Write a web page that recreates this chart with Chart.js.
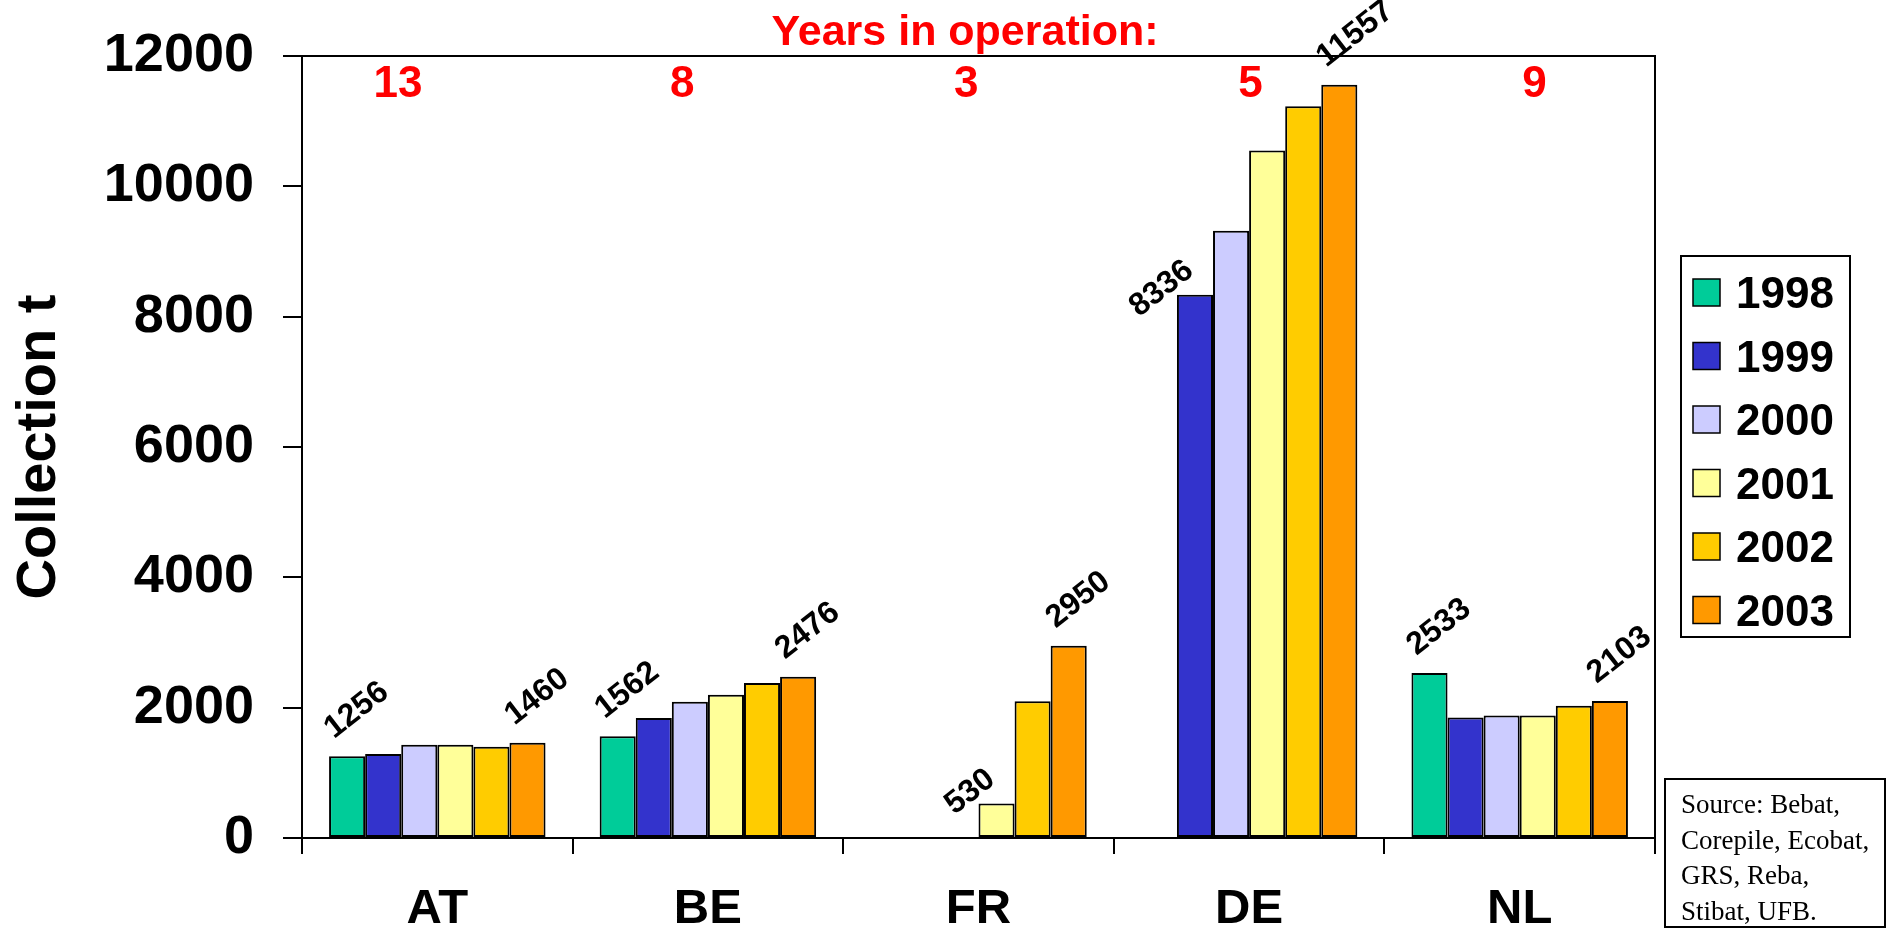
<!DOCTYPE html>
<html lang="en">
<head>
  <meta charset="UTF-8" />
  <title>Battery collection per country</title>
  <script src="https://cdn.jsdelivr.net/npm/chart.js"></script>
  <style>
    body { margin: 0; background: #fff; }
    #wrap { width: 1887px; height: 933px; }
  </style>
</head>
<body>

<div id="wrap"><canvas id="collectionChart" width="1887" height="933"></canvas></div>

<script>
  // data
  const countries = ["AT", "BE", "FR", "DE", "NL"];
  const years = ["1998", "1999", "2000", "2001", "2002", "2003"];
  const yearsInOperation = ["13", "8", "3", "5", "9"];
  const c1998 = [1256, 1562, null, null, 2533];
  const c1999 = [1290, 1840, null, 8336, 1850];
  const c2000 = [1430, 2090, null, 9320, 1880];
  const c2001 = [1430, 2200, 530, 10550, 1880];
  const c2002 = [1400, 2380, 2100, 11230, 2030];
  const c2003 = [1460, 2476, 2950, 11557, 2103];
  const yTicks = [0, 2000, 4000, 6000, 8000, 10000, 12000];
  const sourceLines = ["Source: Bebat,", "Corepile, Ecobat,", "GRS, Reba,", "Stibat, UFB."];

  const series = [c1998, c1999, c2000, c2001, c2002, c2003];
  const colors = ['#00CC99', '#3333CC', '#CCCCFF', '#FFFF99', '#FFCC00', '#FF9900'];
  const SANS = "'Liberation Sans', Arial, sans-serif";

  // black frame on top and right of plot
  const framePlugin = {
    id: 'frame',
    afterDatasetsDraw(chart) {
      const { ctx, chartArea: a } = chart;
      ctx.save();
      ctx.strokeStyle = '#000';
      ctx.lineWidth = 2;
      ctx.beginPath();
      ctx.moveTo(a.left, a.top);
      ctx.lineTo(a.right, a.top);
      ctx.lineTo(a.right, a.bottom);
      ctx.stroke();
      ctx.restore();
    }
  };

  // rotated value labels on first and last bar of each country
  const valueLabels = {
    id: 'valueLabels',
    afterDatasetsDraw(chart) {
      const { ctx } = chart;
      ctx.save();
      ctx.fillStyle = '#000';
      ctx.font = "bold 32px " + SANS;
      ctx.textBaseline = 'alphabetic';
      countries.forEach((c, i) => {
        const present = series.map((s, d) => s[i] != null ? d : -1).filter(d => d >= 0);
        const first = present[0], last = present[present.length - 1];
        [first, last].forEach((d, k) => {
          const bar = chart.getDatasetMeta(d).data[i];
          const v = series[d][i];
          ctx.save();
          if (k === 0 && first > 0) {
            // label sits to the left of the bar when earlier years are missing
            ctx.translate(bar.x, bar.y - 21);
            ctx.textAlign = 'right';
          } else {
            ctx.translate(bar.x - bar.width / 2 + 5, bar.y - 17);
            ctx.textAlign = 'left';
          }
          ctx.rotate(-38 * Math.PI / 180);
          ctx.fillText(String(v), 0, 0);
          ctx.restore();
        });
      });
      ctx.restore();
    }
  };

  // title, years in operation, legend box and source note
  const extras = {
    id: 'extras',
    afterDraw(chart) {
      const { ctx } = chart;
      const xs = chart.scales.x;
      ctx.save();
      ctx.fillStyle = '#FF0000';
      ctx.textAlign = 'center';
      ctx.textBaseline = 'alphabetic';
      ctx.font = "bold 43px " + SANS;
      ctx.fillText("Years in operation:", 965, 45);
      const p0 = xs.getPixelForValue(0);
      const cw = xs.getPixelForValue(1) - p0;
      ctx.font = "bold 44px " + SANS;
      yearsInOperation.forEach((t, i) => {
        ctx.fillText(t, p0 + (i * 1.05 - 0.145) * cw, 97);
      });

      // legend
      ctx.strokeStyle = '#000';
      ctx.lineWidth = 2;
      ctx.strokeRect(1681, 256, 169, 381);
      ctx.textAlign = 'left';
      ctx.font = "bold 44px " + SANS;
      chart.data.datasets.forEach((ds, k) => {
        const cy = 292 + k * 63.5;
        ctx.fillStyle = ds.backgroundColor;
        ctx.fillRect(1693, cy - 13, 27, 27);
        ctx.lineWidth = 1.5;
        ctx.strokeRect(1693, cy - 13, 27, 27);
        ctx.fillStyle = '#000';
        ctx.fillText(ds.label, 1736, cy + 16);
      });

      // source box
      ctx.lineWidth = 2;
      ctx.strokeRect(1665, 779, 220, 148);
      ctx.font = "27px 'Liberation Serif', 'Times New Roman', serif";
      sourceLines.forEach((line, k) => {
        ctx.fillText(line, 1681, 813 + k * 35.7);
      });
      ctx.restore();
    }
  };

  new Chart(document.getElementById('collectionChart'), {
    type: 'bar',
    data: {
      labels: countries,
      datasets: years.map((y, k) => ({
        label: y,
        data: series[k],
        backgroundColor: colors[k],
        borderColor: '#000',
        borderWidth: 2,
        borderSkipped: false,
        categoryPercentage: 0.8,
        barPercentage: 1.0
      }))
    },
    options: {
      responsive: false,
      animation: false,
      devicePixelRatio: 1,
      layout: { padding: { left: 0, top: 56, right: 232, bottom: 0 } },
      plugins: {
        legend: { display: false },
        tooltip: { enabled: false },
        title: { display: false }
      },
      scales: {
        x: {
          offset: true,
          grid: { display: true, drawOnChartArea: false, drawTicks: true, tickLength: 16, color: '#000', lineWidth: 2, offset: true },
          border: { display: true, color: '#000', width: 2 },
          ticks: { color: '#000', font: { family: SANS, size: 49, weight: 'bold' }, padding: 26, maxRotation: 0 },
          afterFit(scale) { scale.height = 95; }
        },
        y: {
          min: 0,
          max: 12000,
          afterBuildTicks(scale) { scale.ticks = yTicks.map(v => ({ value: v })); },
          grid: { display: true, drawOnChartArea: false, drawTicks: true, tickLength: 19, color: '#000', lineWidth: 2 },
          border: { display: true, color: '#000', width: 2 },
          ticks: {
            color: '#000',
            font: { family: SANS, size: 54, weight: 'bold' },
            padding: 29,
            callback: v => String(v)
          },
          title: {
            display: true,
            text: 'Collection t',
            color: '#000',
            font: { family: SANS, size: 56, weight: 'bold' },
            padding: { top: 6, bottom: 0 }
          },
          afterFit(scale) {
            scale.width = 302;
            scale.paddingTop = 0;
            scale.paddingBottom = 0;
          }
        }
      }
    },
    plugins: [framePlugin, valueLabels, extras]
  });
</script>

</body>
</html>
